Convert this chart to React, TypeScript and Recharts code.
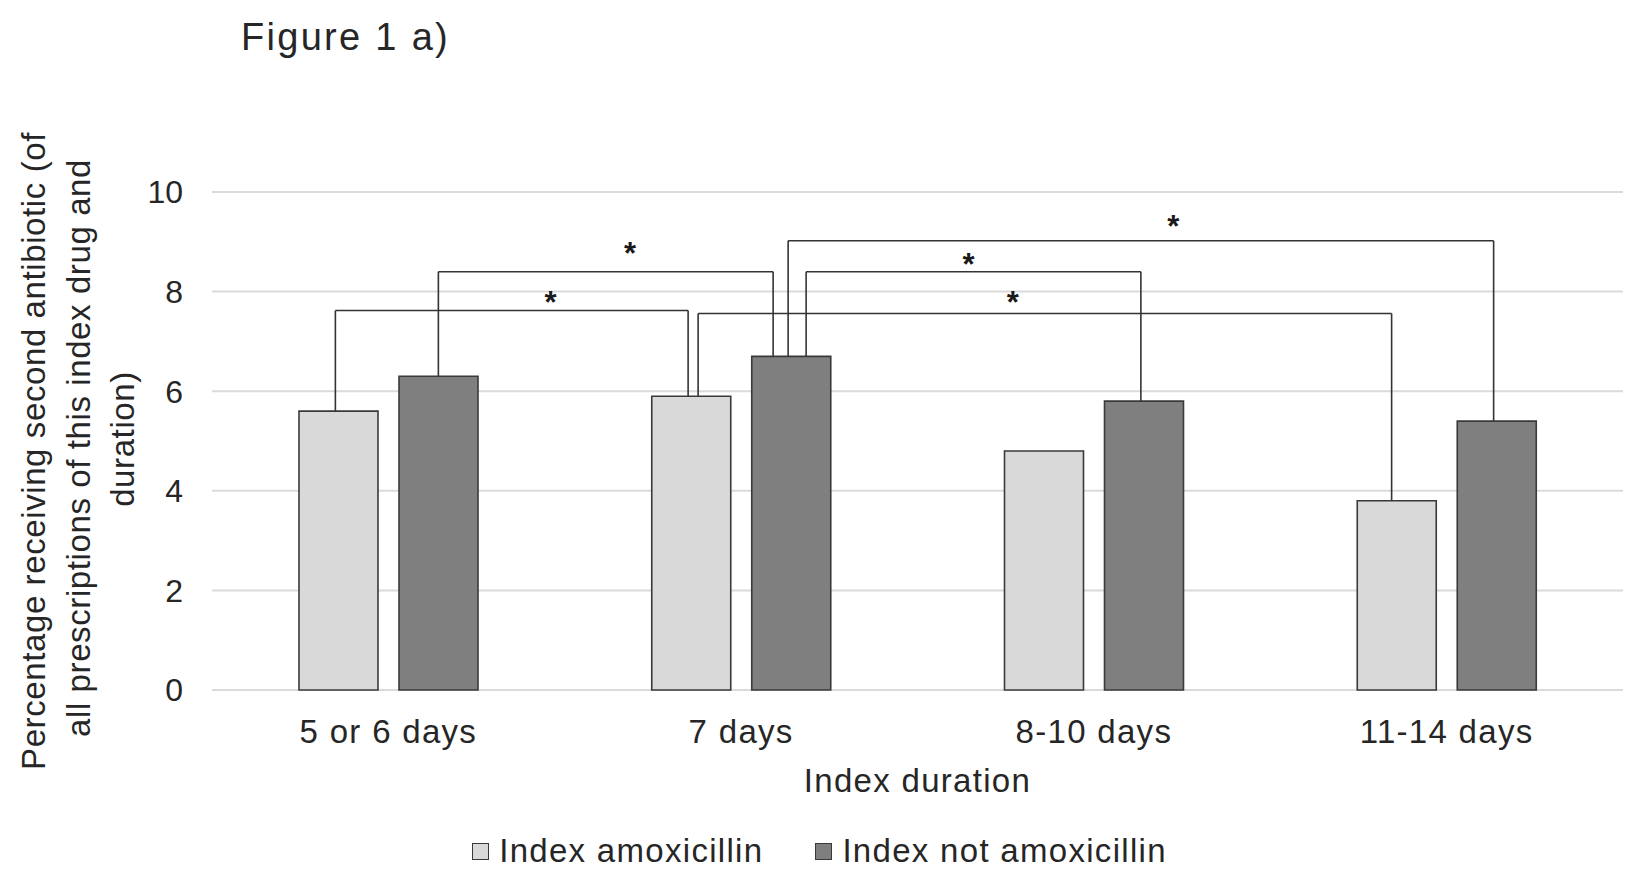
import React from 'react';
import {
  BarChart,
  Bar,
  XAxis,
  YAxis,
  CartesianGrid,
  Legend,
  ReferenceLine,
  ReferenceDot,
} from 'recharts';

// ---------- data ----------
const categories = ['5 or 6 days', '7 days', '8-10 days', '11-14 days'];
const amoxValues = [5.6, 5.9, 4.8, 3.8];
const notAmoxValues = [6.3, 6.7, 5.8, 5.4];
const yTicks = [0, 2, 4, 6, 8, 10];
const seriesNames = ['Index amoxicillin', 'Index not amoxicillin'];

// significance brackets: [category index, series] -> [category index, series]
const bracketFrom = [
  { cat: 0, series: 'amox', nudge: -3 },
  { cat: 0, series: 'notAmox', nudge: 0 },
  { cat: 1, series: 'notAmox', nudge: -3 },
  { cat: 1, series: 'notAmox', nudge: 15 },
  { cat: 1, series: 'amox', nudge: 7 },
];
const bracketTo = [
  { cat: 1, series: 'amox', nudge: -3 },
  { cat: 1, series: 'notAmox', nudge: -18 },
  { cat: 3, series: 'notAmox', nudge: -3 },
  { cat: 2, series: 'notAmox', nudge: -3 },
  { cat: 3, series: 'amox', nudge: -5 },
];
const bracketLevels = [7.62, 8.4, 9.02, 8.4, 7.56];
// star positions: x in category index units (0 = centre of first category), y in value units
const starX = [0.46, 0.685, 2.225, 1.645, 1.77];
const starY = [7.93, 8.92, 9.46, 8.69, 7.93];

// ---------- layout ----------
const W = 1627;
const H = 875;
const MARGIN = { top: 192, right: 4, bottom: 0, left: 0 };
const Y_AXIS_W = 212;
const BAR_SIZE = 79;
const BAR_GAP = 21;
const BAND = (W - MARGIN.left - MARGIN.right - Y_AXIS_W) / categories.length;
const FONT = '"Liberation Sans", Arial, Helvetica, sans-serif';
const TEXT = '#262626';
const LIGHT = '#d9d9d9';
const DARK = '#7f7f7f';
const EDGE = '#3a3a3a';

const data = categories.map((cat, i) => ({
  cat,
  pos: i,
  amox: amoxValues[i],
  notAmox: notAmoxValues[i],
}));

const valueOf = (p: { cat: number; series: string }) =>
  p.series === 'amox' ? amoxValues[p.cat] : notAmoxValues[p.cat];

const xOf = (p: { cat: number; series: string; nudge: number }) =>
  p.cat +
  ((p.series === 'amox' ? -1 : 1) * (BAR_SIZE / 2 + BAR_GAP / 2) + p.nudge) / BAND;

const YLabel = (props: any) => {
  const vb = props.viewBox || { x: 0, y: 0, width: 0, height: 0 };
  const cy = vb.y + vb.height / 2;
  const lines = [
    'Percentage receiving second antibiotic (of',
    'all prescriptions of this index drug and',
    'duration)',
  ];
  const xs = [45, 89.5, 134];
  const dys = [10, 7, -2];
  return (
    <g>
      {lines.map((l, i) => (
        <text
          key={i}
          x={vb.x + xs[i]}
          y={cy + dys[i]}
          transform={`rotate(-90, ${vb.x + xs[i]}, ${cy + dys[i]})`}
          textAnchor="middle"
          fontSize={33}
          letterSpacing={0.6}
          fontFamily={FONT}
          fill={TEXT}
        >
          {l}
        </text>
      ))}
    </g>
  );
};

const XLabel = (props: any) => {
  const vb = props.viewBox || { x: 0, y: 0, width: 0, height: 0 };
  return (
    <text
      x={vb.x + vb.width / 2}
      y={vb.y + 102}
      textAnchor="middle"
      fontSize={33}
      letterSpacing={1.3}
      fontFamily={FONT}
      fill={TEXT}
    >
      Index duration
    </text>
  );
};

const LegendContent = () => (
  <div
    style={{
      height: 60,
      display: 'flex',
      justifyContent: 'center',
      alignItems: 'flex-start',
      fontFamily: FONT,
      fontSize: 33,
      letterSpacing: 1.3,
      color: TEXT,
      paddingLeft: 16,
      boxSizing: 'border-box',
    }}
  >
    {seriesNames.map((name, i) => (
      <div
        key={name}
        style={{
          display: 'flex',
          alignItems: 'center',
          height: 36,
          marginTop: 18,
          marginRight: i === 0 ? 52 : 0,
        }}
      >
        <span
          style={{
            display: 'inline-block',
            width: 15,
            height: 15,
            background: i === 0 ? LIGHT : DARK,
            border: `1.5px solid ${EDGE}`,
            marginRight: 10,
          }}
        />
        <span style={{ lineHeight: '36px' }}>{name}</span>
      </div>
    ))}
  </div>
);

const Star = (props: any) => (
  <text
    x={props.cx}
    y={props.cy + 18}
    textAnchor="middle"
    fontSize={31}
    fontWeight="bold"
    fontFamily={FONT}
    fill="#1a1a1a"
  >
    *
  </text>
);

export default function App() {
  const xTickStyle = { fontSize: 33, fill: TEXT, fontFamily: FONT, letterSpacing: 1.3 };
  const yTickStyle = { fontSize: 32, fill: TEXT, fontFamily: FONT };
  const lineProps = { xAxisId: 'n', stroke: '#333', strokeWidth: 1.6, ifOverflow: 'visible' as const };
  return (
    <div
      style={{
        position: 'absolute',
        left: 0,
        top: 0,
        width: W,
        height: H,
        background: '#fff',
      }}
    >
      <svg
        width={W}
        height={80}
        style={{ position: 'absolute', left: 0, top: 0, pointerEvents: 'none' }}
      >
        <text x={241} y={50} fontSize={38} letterSpacing={2.3} fontFamily={FONT} fill={TEXT}>
          Figure 1 a)
        </text>
      </svg>
      <BarChart
        width={W}
        height={H}
        data={data}
        margin={MARGIN}
        barSize={BAR_SIZE}
        barGap={BAR_GAP}
      >
        <CartesianGrid vertical={false} stroke="#dadada" strokeWidth={2} />
        <XAxis
          dataKey="cat"
          axisLine={false}
          tickLine={false}
          height={125}
          tickMargin={24}
          interval={0}
          tick={xTickStyle}
          label={{ content: XLabel }}
        />
        <XAxis
          xAxisId="n"
          type="number"
          dataKey="pos"
          domain={['dataMin - 0.5', 'dataMax + 0.5']}
          hide
        />
        <YAxis
          domain={[0, 10]}
          ticks={yTicks}
          width={Y_AXIS_W}
          axisLine={false}
          tickLine={false}
          tickMargin={23}
          tick={yTickStyle}
          label={{ content: YLabel }}
        />
        <Legend verticalAlign="bottom" content={LegendContent} />
        <Bar
          dataKey="amox"
          name={seriesNames[0]}
          fill={LIGHT}
          stroke={EDGE}
          strokeWidth={1.6}
          isAnimationActive={false}
        />
        <Bar
          dataKey="notAmox"
          name={seriesNames[1]}
          fill={DARK}
          stroke={EDGE}
          strokeWidth={1.6}
          isAnimationActive={false}
        />
        {bracketFrom.map((from, i) => {
          const to = bracketTo[i];
          const x1 = xOf(from);
          const x2 = xOf(to);
          const lvl = bracketLevels[i];
          return [
            <ReferenceLine
              key={`l${i}`}
              {...lineProps}
              segment={[
                { x: x1, y: valueOf(from) },
                { x: x1, y: lvl },
              ]}
            />,
            <ReferenceLine
              key={`t${i}`}
              {...lineProps}
              segment={[
                { x: x1, y: lvl },
                { x: x2, y: lvl },
              ]}
            />,
            <ReferenceLine
              key={`r${i}`}
              {...lineProps}
              segment={[
                { x: x2, y: lvl },
                { x: x2, y: valueOf(to) },
              ]}
            />,
          ];
        })}
        {starX.map((sx, i) => (
          <ReferenceDot
            key={`s${i}`}
            xAxisId="n"
            x={sx}
            y={starY[i]}
            r={0}
            ifOverflow="visible"
            shape={Star}
          />
        ))}
      </BarChart>
    </div>
  );
}
